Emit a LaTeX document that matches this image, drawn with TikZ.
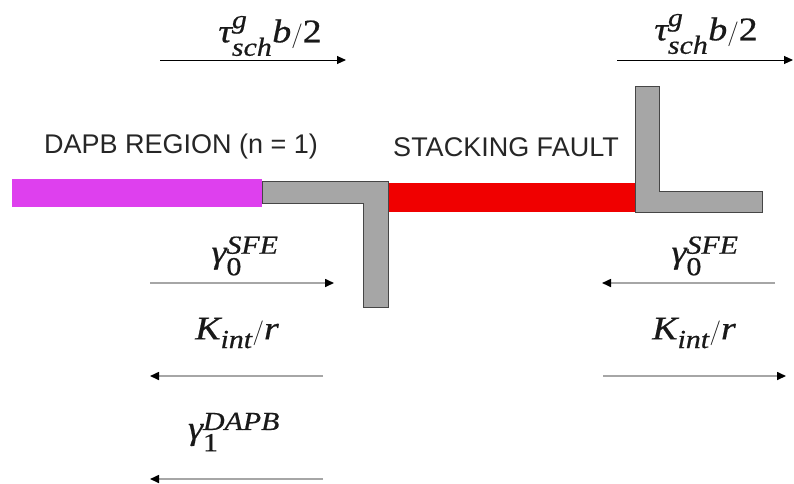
\documentclass[tikz,border=0pt]{standalone}
\usepackage{amsmath}
\usepackage{fontspec}
\setsansfont{Liberation Sans}
\newfontfamily\cambf[FakeStretch=1.15,FakeBold=0.6]{Liberation Serif}
\newcommand\mvar[1]{\text{\cambf\itshape #1}}
\newcommand\mupr[1]{\text{\cambf #1}}
\DeclareMathSizes{33}{33}{26}{20}
\usetikzlibrary{arrows.meta}
\definecolor{dapb}{RGB}{222,64,238}
\definecolor{sfred}{RGB}{240,0,0}
\definecolor{disl}{RGB}{166,166,166}
\definecolor{disledge}{RGB}{70,70,70}
\tikzset{
  region/.style={font=\sffamily\fontsize{27}{30}\selectfont, text=black!85, inner sep=0pt},
  mlabel/.style={font=\fontsize{33}{38}\selectfont, inner sep=0pt, text=black!90},
  toparrow/.style={draw=black, line width=1pt, -{Triangle[length=9pt,width=8pt]}},
  forcearrow/.style={draw=black!35, line width=1.6pt, -{Triangle[length=9pt,width=8pt,color=black]}},
  dislshape/.style={fill=disl, draw=disledge, line width=1pt},
}
\begin{document}
\begin{tikzpicture}[x=1pt,y=-1pt]
\path[use as bounding box] (0,0) rectangle (794,483);
% bars
\fill[dapb] (12,179) rectangle (262,207);
\fill[sfred] (388,183) rectangle (635,212);
\draw[dislshape] (262,181) -- (388,181) -- (388,307) -- (363,307) -- (363,203) -- (262,203) -- cycle;
\draw[dislshape] (635,86) -- (659,86) -- (659,191) -- (762,191) -- (762,212) -- (635,212) -- cycle;
% region labels
\node[region] (dapbtext) at (181,147) {DAPB REGION (n = 1)};
\node[region] (sftext) at (506,147) {STACKING FAULT};
% top arrows
\node[mlabel] (tauL) at (270,36) {$\mvar{τ}_{\mvar{sch}}^{\mvar{g}}\mvar{b}/\mupr{2}$};
\coordinate (tLa) at (160,60); \coordinate (tLb) at (346,60);
\draw[toparrow] (tLa) -- (tLb);
\node[mlabel] (tauR) at (706,34) {$\mvar{τ}_{\mvar{sch}}^{\mvar{g}}\mvar{b}/\mupr{2}$};
\coordinate (tRa) at (617,60); \coordinate (tRb) at (793,60);
\draw[toparrow] (tRa) -- (tRb);
% left force arrows
\node[mlabel] (g0L) at (245,256) {$\mvar{γ}_{\mupr{0}}^{\mvar{SFE}}$};
\coordinate (g0La) at (150,283); \coordinate (g0Lb) at (334,283);
\draw[forcearrow] (g0La) -- (g0Lb);
\node[mlabel] (kL) at (237,333) {$\mvar{K}_{\mvar{int}}/\mvar{r}$};
\coordinate (kLa) at (323,376); \coordinate (kLb) at (150,376);
\draw[forcearrow] (kLa) -- (kLb);
\node[mlabel] (g1L) at (234,432) {$\mvar{γ}_{\mupr{1}}^{\mvar{DAPB}}$};
\coordinate (g1La) at (323,479); \coordinate (g1Lb) at (150,479);
\draw[forcearrow] (g1La) -- (g1Lb);
% right force arrows
\node[mlabel] (g0R) at (705,256) {$\mvar{γ}_{\mupr{0}}^{\mvar{SFE}}$};
\coordinate (g0Ra) at (775,283); \coordinate (g0Rb) at (602,283);
\draw[forcearrow] (g0Ra) -- (g0Rb);
\node[mlabel] (kR) at (694,333) {$\mvar{K}_{\mvar{int}}/\mvar{r}$};
\coordinate (kRa) at (603,376); \coordinate (kRb) at (786,376);
\draw[forcearrow] (kRa) -- (kRb);
\end{tikzpicture}
\end{document}
